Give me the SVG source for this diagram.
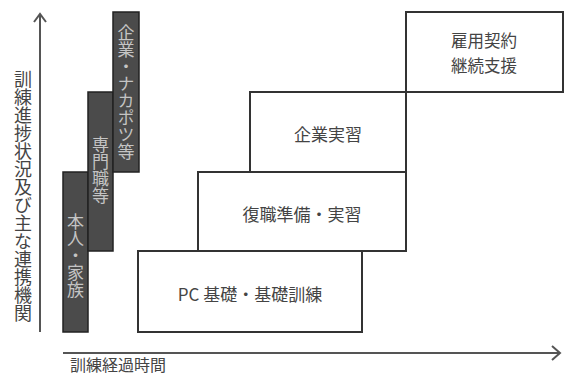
<svg xmlns="http://www.w3.org/2000/svg" width="565" height="378" viewBox="0 0 565 378">
<style>
.box{fill:#fff;stroke:#333;stroke-width:2}
.bar{fill:#4b4b4b;stroke:#222;stroke-width:1.5}
.t{font-family:"Noto Sans CJK JP","Noto Sans",sans-serif;font-size:17px;fill:#444;text-anchor:middle}
.v{font-family:"Noto Sans CJK JP",sans-serif;font-size:17px;fill:#c4c4c4;writing-mode:vertical-rl;text-anchor:middle}
.ax{stroke:#555;stroke-width:2;fill:none}
</style>
<rect width="565" height="378" fill="#fff"/>
<g id="connectors">
<path class="ax" d="M40,332 V14"/>
<path class="ax" d="M34,22 L40,14 L46,22"/>
<path class="ax" d="M63,353 H560"/>
<path class="ax" d="M552,346 L560,353 L552,360"/>
</g>
<g id="axis-y-label"><text class="v" style="fill:#444;font-size:18px" x="23" y="196">訓練進捗状況及び主な連携機関</text></g>
<g id="axis-x-label"><text class="t" style="text-anchor:start;font-size:16px" x="70" y="371">訓練経過時間</text></g>
<g id="bar-honnin"><rect class="bar" x="63" y="172" width="25" height="160"/><text class="v" x="75.5" y="256">本人・家族</text></g>
<g id="bar-senmon"><rect class="bar" x="88" y="92" width="25" height="159"/><text class="v" x="100.5" y="170">専門職等</text></g>
<g id="bar-kigyo"><rect class="bar" x="113" y="12" width="26" height="160"/><text class="v" x="126" y="92">企業・ナカポツ等</text></g>
<g id="box-koyo"><rect class="box" x="406" y="12" width="157" height="80"/><text class="t" style="font-size:16.5px" x="484" y="47">雇用契約</text><text class="t" style="font-size:16.5px" x="484" y="72">継続支援</text></g>
<g id="box-kigyo"><rect class="box" x="250" y="92" width="156" height="80"/><text class="t" x="328" y="141">企業実習</text></g>
<g id="box-fukushoku"><rect class="box" x="198" y="172" width="208" height="79"/><text class="t" x="302" y="221">復職準備・実習</text></g>
<g id="box-pc"><rect class="box" x="138" y="251" width="224" height="81"/><text class="t" x="250" y="301">PC 基礎・基礎訓練</text></g>
</svg>
